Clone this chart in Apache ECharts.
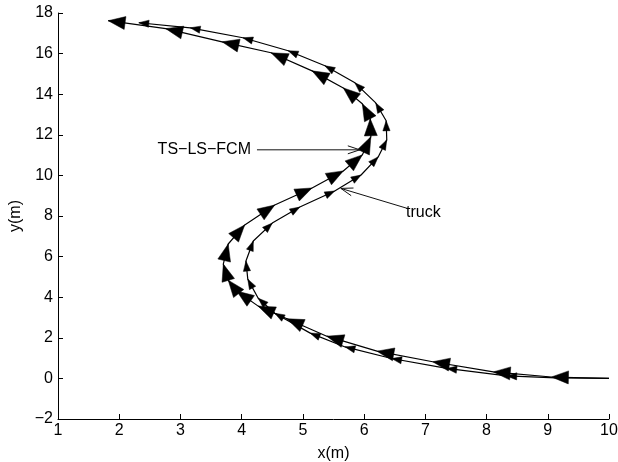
<!DOCTYPE html>
<html><head><meta charset="utf-8">
<script src="https://cdn.jsdelivr.net/npm/echarts@6/dist/echarts.min.js"></script>
<style>html,body{margin:0;padding:0;background:#fff}#c{width:618px;height:462px}</style>
</head><body><div id="c"></div>
<script>
// TS-LS-FCM trajectory (travel order)
const fcmX = [10.00, 9.06, 8.11, 7.12, 6.21, 5.39, 4.74, 4.27, 3.92, 3.78, 3.70, 3.78, 4.05, 4.54, 5.15, 5.66, 5.97, 6.11, 6.10, 5.97, 5.66, 5.15, 4.48, 3.68, 2.76, 1.82];
const fcmY = [0.00, 0.07, 0.32, 0.82, 1.34, 2.08, 2.94, 3.56, 4.30, 4.84, 5.63, 6.62, 7.56, 8.54, 9.38, 10.22, 11.01, 11.90, 12.79, 13.53, 14.31, 15.15, 16.04, 16.58, 17.23, 17.62];
// truck trajectory (travel order)
const truckX = [10.00, 9.13, 8.33, 7.35, 6.45, 5.69, 5.12, 4.54, 4.27, 4.10, 4.07, 4.19, 4.50, 4.95, 5.52, 5.95, 6.23, 6.37, 6.36, 6.19, 5.85, 5.36, 4.76, 4.02, 3.16, 2.32];
const truckY = [0.00, 0.03, 0.12, 0.49, 0.98, 1.55, 2.23, 3.21, 3.95, 4.89, 5.78, 6.77, 7.65, 8.44, 9.23, 10.02, 10.91, 11.75, 12.69, 13.57, 14.56, 15.40, 16.14, 16.78, 17.27, 17.52];
// annotations
const noteLabels = ['TS\u2212LS\u2212FCM', 'truck'];
const noteTailX = [4.25, 6.70];
const noteTailY = [11.26, 8.38];
const noteTipX = [5.93, 5.62];
const noteTipY = [11.26, 9.36];

const FONT = '16px "Liberation Sans", Arial, Helvetica, sans-serif';

function pts(xs, ys) { return xs.map((x, i) => [x, ys[i]]); }
function segs(xs, ys) {
  const out = [];
  for (let i = 1; i < xs.length; i++) out.push([xs[i - 1], ys[i - 1], xs[i], ys[i]]);
  return out;
}
function headRenderer(len, halfW) {
  return function (params, api) {
    const p0 = api.coord([api.value(0), api.value(1)]);
    const p1 = api.coord([api.value(2), api.value(3)]);
    let dx = p1[0] - p0[0], dy = p1[1] - p0[1];
    const d = Math.hypot(dx, dy) || 1; dx /= d; dy /= d;
    const bx = p1[0] - dx * len, by = p1[1] - dy * len;
    return {
      type: 'polygon',
      shape: { points: [[p1[0], p1[1]], [bx - dy * halfW, by + dx * halfW], [bx + dy * halfW, by - dx * halfW]] },
      style: { fill: '#000', stroke: '#000', lineWidth: 0.5 }
    };
  };
}
const noteData = noteLabels.map((t, i) => [noteTailX[i], noteTailY[i], noteTipX[i], noteTipY[i], i]);

function noteRenderer(params, api) {
  const i = api.value(4);
  const p0 = api.coord([api.value(0), api.value(1)]);
  const p1 = api.coord([api.value(2), api.value(3)]);
  let dx = p1[0] - p0[0], dy = p1[1] - p0[1];
  const d = Math.hypot(dx, dy) || 1; dx /= d; dy /= d;
  const L = 12, W = 4;
  const bx = p1[0] - dx * L, by = p1[1] - dy * L;
  const left = i === 0;
  return {
    type: 'group',
    children: [
      { type: 'line', shape: { x1: p0[0], y1: p0[1], x2: p1[0], y2: p1[1] }, style: { stroke: '#111', lineWidth: 1 } },
      { type: 'polyline', shape: { points: [[bx - dy * W, by + dx * W], [p1[0], p1[1]], [bx + dy * W, by - dx * W]] }, style: { stroke: '#111', lineWidth: 1, fill: null } },
      { type: 'text', style: {
          text: noteLabels[i],
          x: left ? p0[0] - 6 : p0[0] - 1,
          y: left ? p0[1] : p0[1] + 4,
          align: left ? 'right' : 'left', verticalAlign: 'middle',
          fill: '#000', font: FONT } }
    ]
  };
}

const chart = echarts.init(document.getElementById('c'), null, { renderer: 'canvas' });
const axisCommon = {
  axisLine: { show: true, onZero: false, lineStyle: { color: '#000', width: 1 } },
  axisTick: { show: true, inside: true, length: 5, lineStyle: { color: '#000' } },
  splitLine: { show: false },
  axisLabel: { color: '#000', fontSize: 16, fontFamily: '"Liberation Sans", Arial, sans-serif',
    formatter: v => String(v).replace('-', '\u2212') },
  nameTextStyle: { color: '#000', fontSize: 16, fontFamily: '"Liberation Sans", Arial, sans-serif' }
};
chart.setOption({
  animation: false,
  backgroundColor: '#fff',
  grid: { left: 58, right: 9, top: 13, bottom: 43, containLabel: false, outerBoundsMode: 'none' },
  xAxis: Object.assign({}, axisCommon, {
    type: 'value', min: 1, max: 10, interval: 1,
    name: 'x(m)', nameLocation: 'middle', nameGap: 27,
    axisLabel: Object.assign({}, axisCommon.axisLabel, { margin: 4 })
  }),
  yAxis: Object.assign({}, axisCommon, {
    type: 'value', min: -2, max: 18, interval: 2,
    name: 'y(m)', nameLocation: 'middle', nameGap: 28,
    axisLabel: Object.assign({}, axisCommon.axisLabel, { margin: 5 })
  }),
  series: [
    { type: 'line', data: pts(fcmX, fcmY), showSymbol: false, symbol: 'none', lineStyle: { color: '#000', width: 1.2 }, z: 2 },
    { type: 'line', data: pts(truckX, truckY), showSymbol: false, symbol: 'none', lineStyle: { color: '#000', width: 1.2 }, z: 2 },
    { type: 'custom', data: segs(truckX, truckY), encode: { x: [0, 2], y: [1, 3] }, renderItem: headRenderer(10, 3.6), z: 3 },
    { type: 'custom', data: segs(fcmX, fcmY), encode: { x: [0, 2], y: [1, 3] }, renderItem: headRenderer(17, 6.5), z: 4 },
    { type: 'custom', data: noteData, encode: { x: [0, 2], y: [1, 3] }, renderItem: noteRenderer, z: 5, clip: false }
  ]
});
</script>
</body></html>
